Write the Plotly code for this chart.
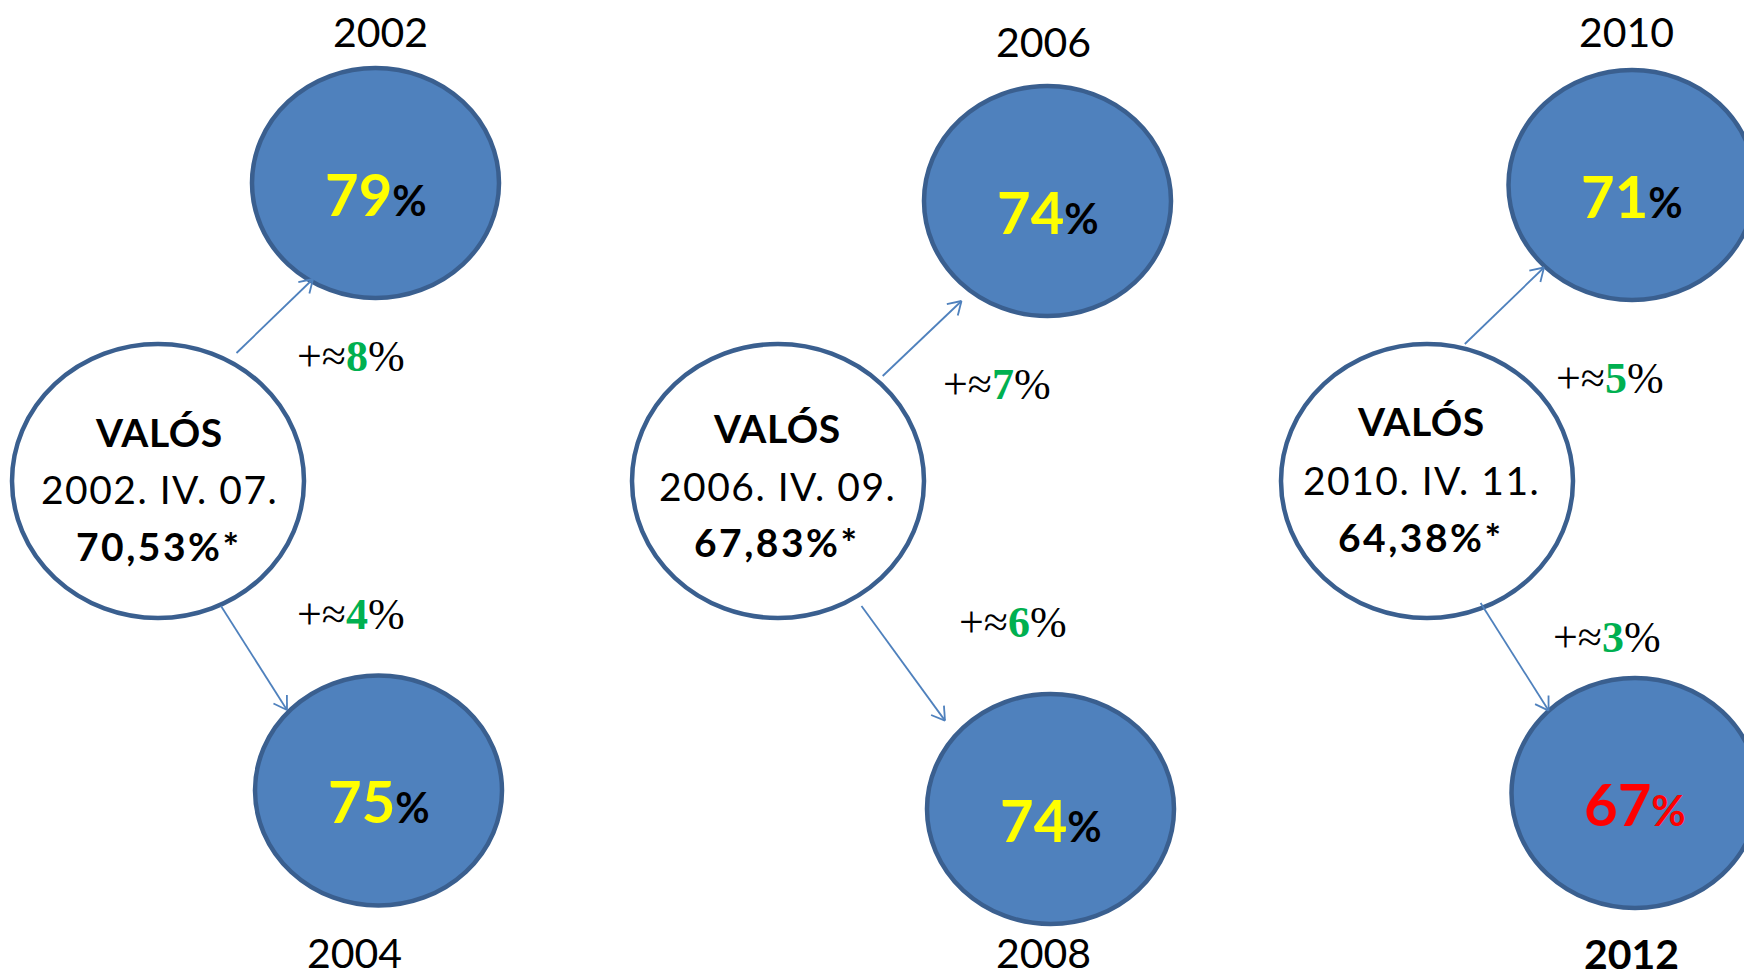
import math
import plotly.graph_objects as go

# ---------------- data ----------------
real_label = "VALÓS"
election_dates = ["2002. IV. 07.", "2006. IV. 09.", "2010. IV. 11."]
actual_turnout = ["70,53", "67,83", "64,38"]
top_years = ["2002", "2006", "2010"]
top_values = [79, 74, 71]
top_deltas = [8, 7, 5]
bottom_years = ["2004", "2008", "2012"]
bottom_values = [75, 74, 67]
bottom_deltas = [4, 6, 3]
bottom_value_colors = ["#FFFF00", "#FFFF00", "#FF0000"]
bottom_pct_colors = ["#000000", "#000000", "#FF0000"]
bottom_year_bold = [False, False, True]

# ---------------- layout (page pixel positions) ----------------
W, H = 1752, 975
OFF = 8  # page body margin of the html page
white_c = [(158, 481), (778, 481), (1427, 481)]
white_r = (146, 137)
top_c = [(375.5, 183), (1047.5, 201), (1632, 185)]
bot_c = [(378.5, 790.5), (1050.5, 809), (1635, 793)]
blue_r = (123.5, 115)
top_year_pos = [(380, 31), (1043, 41), (1626, 31)]
bot_year_pos = [(354, 952), (1043, 952), (1631, 953)]
top_delta_pos = [(351, 356), (997, 384), (1610, 378)]
bot_delta_pos = [(351, 614), (1013, 622), (1607, 637)]
top_arrows = [((236.5, 353), (313, 279)), ((882.7, 376), (961.5, 301)), ((1464.8, 344), (1544, 267.5))]
bot_arrows = [((221, 606), (287, 710)), ((861.5, 606), (945, 720.6)), ((1480.6, 603), (1548.6, 710.6))]
white_text_x = [159, 777, 1421]
white_text_y = [(432, 489, 546), (428, 486, 542), (421, 480, 537)]

BLUE_FILL = "#4F81BD"
BLUE_LINE = "#3A5F8F"
GREEN = "#00B050"
SANS = "Lato, 'Open Sans', sans-serif"
SERIF = "'Liberation Serif', 'DejaVu Serif', serif"
HEAD_LEN = 15
HEAD_ANG = math.radians(32)

fig = go.Figure()
shapes = []
ann = []

def ellipse(c, r, fill):
    return dict(type="circle", xref="x", yref="y",
                x0=c[0] - r[0], x1=c[0] + r[0], y0=c[1] - r[1], y1=c[1] + r[1],
                fillcolor=fill, line=dict(color=BLUE_LINE, width=4.5), layer="above")

def seg(p, q):
    return dict(type="line", xref="x", yref="y", x0=p[0], y0=p[1], x1=q[0], y1=q[1],
                line=dict(color=BLUE_FILL, width=1.8), layer="above")

def arrow_shapes(tail, head):
    out = [seg(tail, head)]
    ang = math.atan2(tail[1] - head[1], tail[0] - head[0])
    for s in (-1, 1):
        a = ang + s * HEAD_ANG
        out.append(seg(head, (head[0] + HEAD_LEN * math.cos(a), head[1] + HEAD_LEN * math.sin(a))))
    return out

def txt(x, y, text, size, family=SANS, color="#000000"):
    return dict(x=x, y=y, xref="x", yref="y", text=text, showarrow=False,
                font=dict(size=size, family=family, color=color),
                xanchor="center", yanchor="middle")

for i in range(3):
    shapes.append(ellipse(white_c[i], white_r, "#FFFFFF"))
    shapes.append(ellipse(top_c[i], blue_r, BLUE_FILL))
    shapes.append(ellipse(bot_c[i], blue_r, BLUE_FILL))
for i in range(3):
    shapes.extend(arrow_shapes(*top_arrows[i]))
    shapes.extend(arrow_shapes(*bot_arrows[i]))

for i in range(3):
    tx = white_text_x[i]
    ty = white_text_y[i]
    ann.append(txt(tx, ty[0], "<b><span style='letter-spacing:0.5px'>" + real_label + "</span></b>", 39))
    ann.append(txt(tx, ty[1], "<span style='letter-spacing:1.5px'>" + election_dates[i] + "</span>", 39))
    ann.append(txt(tx, ty[2], "<b><span style='letter-spacing:2.5px'>" + actual_turnout[i] + "%*</span></b>", 39))

    ann.append(txt(top_c[i][0], top_c[i][1] + 10,
                   "<b><span style='color:#FFFF00;font-size:58px'>%d</span>"
                   "<span style='color:#000000;font-size:42px'>%%</span></b>" % top_values[i], 58))
    ann.append(txt(bot_c[i][0], bot_c[i][1] + 10,
                   "<b><span style='color:%s;font-size:58px'>%d</span>"
                   "<span style='color:%s;font-size:42px'>%%</span></b>"
                   % (bottom_value_colors[i], bottom_values[i], bottom_pct_colors[i]), 58))

    ann.append(txt(*top_year_pos[i], top_years[i], 41))
    by = bottom_years[i]
    ann.append(txt(*bot_year_pos[i], "<b>" + by + "</b>" if bottom_year_bold[i] else by, 41))

    ann.append(txt(*top_delta_pos[i],
                   "+≈<b><span style='color:%s'>%d</span></b>%%" % (GREEN, top_deltas[i]), 44, SERIF))
    ann.append(txt(*bot_delta_pos[i],
                   "+≈<b><span style='color:%s'>%d</span></b>%%" % (GREEN, bottom_deltas[i]), 44, SERIF))

fig.update_layout(
    width=W, height=H,
    margin=dict(l=0, r=0, t=0, b=0),
    paper_bgcolor="#FFFFFF", plot_bgcolor="#FFFFFF",
    xaxis=dict(range=[OFF, W + OFF], visible=False, fixedrange=True),
    yaxis=dict(range=[H + OFF, OFF], visible=False, fixedrange=True),
    shapes=shapes, annotations=ann, showlegend=False,
)
fig.write_html("out.html")
